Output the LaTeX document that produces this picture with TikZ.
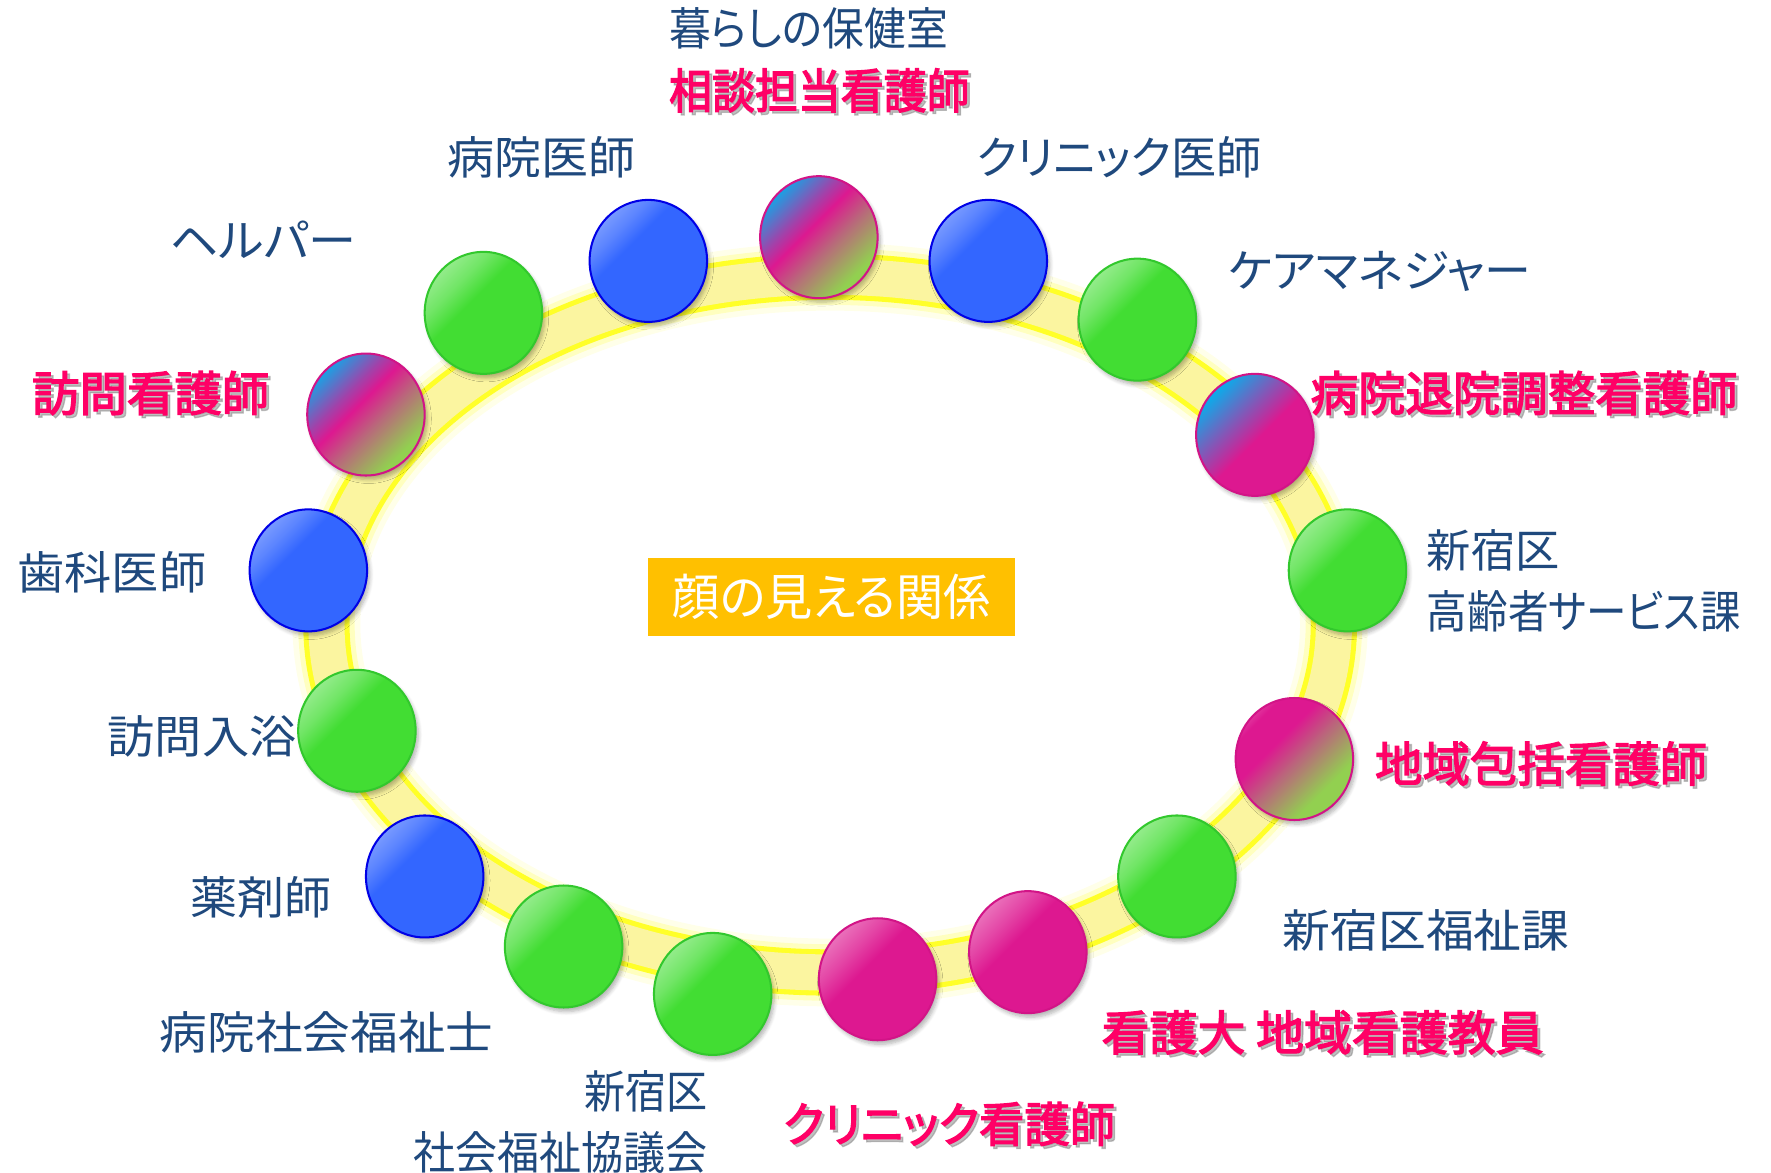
\documentclass[tikz,border=0pt]{standalone}
\usepackage{fontspec}
\usetikzlibrary{shapes.geometric,shadows.blur,calc}
\newfontfamily\jp[RawFeature=+palt]{Noto Sans CJK JP}
\newfontfamily\jpb[RawFeature=+palt,FakeBold=2.8]{Noto Sans CJK JP}
\definecolor{cgreen}{RGB}{66,221,51}
\definecolor{cgreenb}{RGB}{50,200,45}
\definecolor{cblue}{RGB}{51,102,255}
\definecolor{cblueb}{RGB}{0,0,230}
\definecolor{cmag}{RGB}{221,24,144}
\definecolor{cmagb}{RGB}{210,20,135}
\definecolor{ccyan}{RGB}{16,168,232}
\definecolor{mgreen}{RGB}{146,208,80}
\definecolor{mbrown}{RGB}{184,106,122}
\definecolor{txtblue}{RGB}{31,73,125}
\definecolor{txtpink}{RGB}{255,0,102}
\definecolor{orangec}{RGB}{255,192,0}
\definecolor{ringpale}{RGB}{251,245,160}
\definecolor{ringbright}{RGB}{255,255,40}
\pgfdeclareverticalshading{glgreen}{100bp}{color(0bp)=(cgreen); color(57bp)=(cgreen); color(66bp)=(cgreen!75!white); color(86bp)=(cgreen!35!white); color(100bp)=(cgreen!30!white)}
\pgfdeclareverticalshading{glblue}{100bp}{color(0bp)=(cblue); color(60bp)=(cblue); color(68bp)=(cblue!80!white); color(86bp)=(cblue!45!white); color(100bp)=(cblue!40!white)}
\pgfdeclareverticalshading{glmag}{100bp}{color(0bp)=(cmag); color(57bp)=(cmag); color(66bp)=(cmag!80!white); color(86bp)=(cmag!40!white); color(100bp)=(cmag!35!white)}
\pgfdeclareverticalshading{multi}{100bp}{color(0bp)=(mgreen); color(28bp)=(mgreen); color(44bp)=(mbrown); color(55bp)=(cmag); color(62bp)=(cmag!70!ccyan); color(76bp)=(ccyan); color(100bp)=(ccyan)}
\pgfdeclareverticalshading{multicm}{100bp}{color(0bp)=(cmag); color(48bp)=(cmag); color(60bp)=(cmag!55!ccyan); color(74bp)=(ccyan); color(100bp)=(ccyan)}
\pgfdeclareverticalshading{multimg}{100bp}{color(0bp)=(mgreen); color(32bp)=(mgreen); color(48bp)=(mbrown); color(60bp)=(cmag); color(72bp)=(cmag); color(88bp)=(cmag!45!white); color(100bp)=(cmag!40!white)}
\tikzset{
  ball/.style={shape=ellipse, minimum width=52pt, minimum height=54pt, inner sep=0pt, line width=0.9pt, shade, shading angle=45,
    blur shadow={shadow xshift=1.2pt, shadow yshift=-1.8pt, shadow opacity=30, shadow blur steps=6}},
  gball/.style={ball, shading=glgreen, draw=cgreenb},
  bball/.style={ball, shading=glblue, draw=cblueb},
  mball/.style={ball, shading=glmag, draw=cmagb},
  xball/.style={ball, shading=multi, draw=cmagb},
  cball/.style={ball, shading=multicm, draw=cmagb},
  pball/.style={ball, shading=multimg, draw=cmagb},
  lbl/.style={font=\jp\fontsize{20}{24}\selectfont, text=txtblue, inner sep=0pt},
  plbl/.style={font=\jpb\fontsize{21}{25}\selectfont, text=txtpink, inner sep=0pt},
  psh/.style={font=\jpb\fontsize{21}{25}\selectfont, text=black!45, opacity=0.55, inner sep=0pt}
}
% \bluelab{name}{pos}{anchor}{xscale}{text}
\newcommand\bluelab[5]{\node[lbl, anchor=#3] (#1) at (#2) {\scalebox{#4}[1]{#5}};}
\newcommand\pinklab[5]{%
  \node[psh, anchor=#3] (#1s) at ($(#2)+(2.5,2.5)$) {\scalebox{#4}[1]{#5}};
  \node[plbl, anchor=#3] (#1) at (#2) {\scalebox{#4}[1]{#5}};}
\begin{document}
\begin{tikzpicture}[x=0.5pt,y=-0.5pt]
\useasboundingbox (0,0) rectangle (1568,1038);
% ring
\draw[ringbright, opacity=0.10, line width=30pt] (735,553) ellipse [x radius=446, y radius=308];
\draw[ringbright, opacity=0.22, line width=25pt] (735,553) ellipse [x radius=446, y radius=308];
\draw[ringbright, line width=20.5pt] (735,553) ellipse [x radius=446, y radius=308];
\draw[ringpale, line width=16pt] (735,553) ellipse [x radius=446, y radius=308];
% center
\node[fill=orangec, text=white, font=\jp\fontsize{22}{26}\selectfont, minimum width=162.5pt, minimum height=34.5pt, inner sep=0pt] (center) at (736.5,528.5) {\scalebox{0.95}[1]{顔の見える関係}};
% balls
\node[xball] (b1) at (725,210) {};
\node[bball] (b2) at (875,231) {};
\node[gball] (b3) at (1007,283) {};
\node[cball] (b4) at (1111,385) {};
\node[gball] (b5) at (1193,505) {};
\node[pball] (b6) at (1146,672) {};
\node[gball] (b7) at (1042,776) {};
\node[mball] (b8) at (910,843) {};
\node[mball] (b9) at (777,867) {};
\node[gball] (b10) at (631,880) {};
\node[gball] (b11) at (499,838) {};
\node[bball] (b12) at (376,776) {};
\node[gball] (b13) at (316,647) {};
\node[bball] (b14) at (273,505) {};
\node[xball] (b15) at (324,367) {};
\node[gball] (b16) at (428,277) {};
\node[bball] (b17) at (574,231) {};
% blue labels
\bluelab{t1}{592,25}{west}{0.925}{暮らしの保健室}
\bluelab{t17}{396,139}{west}{1.04}{病院医師}
\bluelab{t2}{864,139}{west}{1.0}{クリニック医師}
\bluelab{t16}{150,212}{west}{1.065}{ヘルパー}
\bluelab{t3}{1087,240}{west}{1.04}{ケアマネジャー}
\bluelab{t14}{15,507}{west}{1.045}{歯科医師}
\bluelab{t5a}{1263,487}{west}{0.98}{新宿区}
\bluelab{t5b}{1263,541}{west}{0.897}{高齢者サービス課}
\bluelab{t13}{95,652}{west}{1.045}{訪問入浴}
\bluelab{t12}{168,795}{west}{1.04}{薬剤師}
\bluelab{t7}{1135,824}{west}{1.06}{新宿区福祉課}
\bluelab{t11}{141,914}{west}{1.055}{病院社会福祉士}
\bluelab{t10a}{627,966}{east}{0.91}{新宿区}
\bluelab{t10b}{627,1020}{east}{0.93}{社会福祉協議会}
% pink labels
\pinklab{p1}{592,80}{west}{0.905}{相談担当看護師}
\pinklab{p15}{28,348}{west}{1.0}{訪問看護師}
\pinklab{p4}{1160,348}{west}{1.0}{病院退院調整看護師}
\pinklab{p6}{1217,676}{west}{1.0}{地域包括看護師}
\pinklab{p8}{975,914}{west}{1.01}{看護大 地域看護教員}
\pinklab{p9}{693,995}{west}{0.955}{クリニック看護師}
\end{tikzpicture}
\end{document}
